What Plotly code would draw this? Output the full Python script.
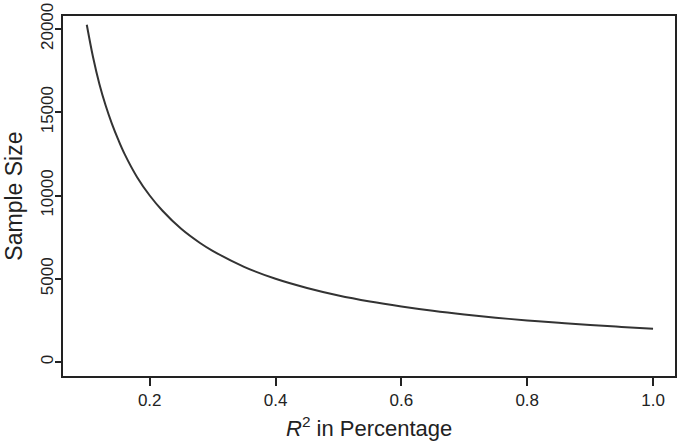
import plotly.graph_objects as go

# Values
r2 = [0.10, 0.11, 0.12, 0.13, 0.14, 0.15, 0.16, 0.18, 0.20, 0.22, 0.25, 0.28,
      0.30, 0.35, 0.40, 0.45, 0.50, 0.55, 0.60, 0.65, 0.70, 0.75, 0.80, 0.85,
      0.90, 0.95, 1.00]
sample_size = [20250, 18300, 16700, 15400, 14300, 13350, 12500, 11100, 10000,
               9100, 8000, 7150, 6680, 5720, 5000, 4450, 4000, 3640, 3340,
               3080, 2860, 2670, 2500, 2360, 2230, 2110, 2000]

x_ticks = [0.2, 0.4, 0.6, 0.8, 1.0]
x_tick_labels = ["0.2", "0.4", "0.6", "0.8", "1.0"]
y_ticks = [0, 5000, 10000, 15000, 20000]
y_tick_labels = ["0", "5000", "10000", "15000", "20000"]

FONT = "Liberation Sans, Arial, sans-serif"
TXT = "#222222"

fig = go.Figure()
fig.add_trace(go.Scatter(x=r2, y=sample_size, mode="lines",
                         line=dict(color="#333333", width=2, shape="spline"),
                         showlegend=False, hoverinfo="skip"))

fig.update_layout(
    width=680, height=441,
    margin=dict(l=63, r=3, t=13, b=65),
    paper_bgcolor="white", plot_bgcolor="white",
    font=dict(family=FONT, color=TXT),
    xaxis=dict(range=[0.0622, 1.0349], tickvals=x_ticks, ticktext=x_tick_labels,
               showgrid=False, zeroline=False, showline=True, mirror=True,
               linecolor="#222222", linewidth=2, ticks="outside", ticklen=8,
               tickwidth=1.5, tickcolor="#222222",
               ticklabeloverflow="allow",
               tickfont=dict(size=17, family=FONT, color=TXT)),
    yaxis=dict(range=[-833, 20774], tickvals=y_ticks, ticktext=y_tick_labels,
               tickangle=-90, ticklabelstandoff=-5,
               showgrid=False, zeroline=False, showline=True, mirror=True,
               linecolor="#222222", linewidth=2, ticks="outside", ticklen=6,
               tickwidth=1.5, tickcolor="#222222",
               ticklabeloverflow="allow",
               tickfont=dict(size=17, family=FONT, color=TXT)),
    annotations=[
        dict(text="<i>R</i><sup>2</sup> in Percentage", xref="paper", yref="paper",
             x=(370 - 63) / 614, y=-(427 - 376) / 363, xanchor="center", yanchor="middle",
             showarrow=False, font=dict(size=22, family=FONT, color=TXT)),
        dict(text="Sample Size", xref="paper", yref="paper",
             x=-(63 - 14) / 614, y=(376 - 195) / 363, xanchor="center", yanchor="middle",
             textangle=-90, showarrow=False, font=dict(size=23, family=FONT, color=TXT)),
    ],
)

fig.write_html("out.html", config={"displayModeBar": False},
               post_script="document.body.style.margin='0';document.body.style.overflow='hidden';")
